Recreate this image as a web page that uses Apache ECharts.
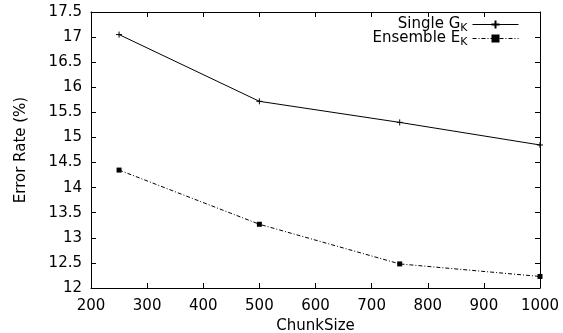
<!DOCTYPE html>
<html><head><meta charset="utf-8">
<script src="https://cdn.jsdelivr.net/npm/echarts@6/dist/echarts.min.js"></script>
<style>html,body{margin:0;padding:0;background:#fff}#c{width:563px;height:333px}</style>
</head><body><div id="c"></div>
<script>
const chunkSizes = [250, 500, 750, 1000];
const singleGK = [17.05, 15.72, 15.30, 14.85];
const ensembleEK = [14.35, 13.27, 12.48, 12.23];
const xTicks = [200, 300, 400, 500, 600, 700, 800, 900, 1000];
const yTicks = [12, 12.5, 13, 13.5, 14, 14.5, 15, 15.5, 16, 16.5, 17, 17.5];

const font = 'DejaVu Sans, Liberation Sans, Arial, sans-serif';
const fs = 15;
const plus = 'path://M0,5L10,5M5,0L5,10';
const chart = echarts.init(document.getElementById('c'), null, {renderer: 'canvas'});
const axisCommon = {
  axisLine: {show: true, onZero: false, lineStyle: {color: '#000', width: 1}},
  axisTick: {show: true, inside: true, length: 5, lineStyle: {color: '#000'}},
  splitLine: {show: false}
};
chart.setOption({
  animation: false,
  grid: {left: 91, right: 23, top: 12, bottom: 45, containLabel: false, outerBoundsMode: 'none'},
  legend: {
    right: 44, top: 17, orient: 'vertical', align: 'right',
    itemWidth: 46, itemHeight: 10, itemGap: -3, padding: 0,
    lineStyle: {width: 1},
    textStyle: {fontFamily: font, fontSize: fs, color: '#000',
      rich: {t: {fontFamily: font, fontSize: fs}, s: {fontFamily: font, fontSize: 11, padding: [8, 0, 0, 0]}}},
    formatter: function (name) {
      return name === 'Single' ? '{t|Single G}{s|K}' : '{t|Ensemble E}{s|K}';
    },
    data: ['Single', 'Ensemble']
  },
  xAxis: [
    Object.assign({type: 'value', min: xTicks[0], max: xTicks[xTicks.length - 1], interval: 100, position: 'bottom',
      axisLabel: {fontFamily: font, fontSize: fs, color: '#000', margin: 11, formatter: v => String(v)},
      name: 'ChunkSize', nameLocation: 'middle', nameGap: 30,
      nameTextStyle: {fontFamily: font, fontSize: fs, color: '#000'}}, axisCommon),
    Object.assign({type: 'value', min: xTicks[0], max: xTicks[xTicks.length - 1], interval: 100, position: 'top',
      axisLabel: {show: false}}, axisCommon)
  ],
  yAxis: [
    Object.assign({type: 'value', min: yTicks[0], max: yTicks[yTicks.length - 1], interval: 0.5, position: 'left',
      axisLabel: {fontFamily: font, fontSize: fs, color: '#000', margin: 9, formatter: v => String(v)},
      name: 'Error Rate (%)', nameLocation: 'middle', nameGap: 62, nameRotate: 90,
      nameTextStyle: {fontFamily: font, fontSize: fs, color: '#000'}}, axisCommon),
    Object.assign({type: 'value', min: yTicks[0], max: yTicks[yTicks.length - 1], interval: 0.5, position: 'right',
      axisLabel: {show: false}}, axisCommon)
  ],
  series: [
    {name: 'Single', type: 'line', data: chunkSizes.map((x, i) => [x, singleGK[i]]),
      symbol: plus, symbolSize: 6, showSymbol: true,
      lineStyle: {color: '#000', width: 1}, itemStyle: {color: '#000', borderColor: '#000', borderWidth: 1}},
    {name: 'Ensemble', type: 'line', data: chunkSizes.map((x, i) => [x, ensembleEK[i]]),
      symbol: 'rect', symbolSize: 5, showSymbol: true,
      lineStyle: {color: '#000', width: 1, type: [4, 2, 1, 2]}, itemStyle: {color: '#000'}}
  ]
});
</script></body></html>
